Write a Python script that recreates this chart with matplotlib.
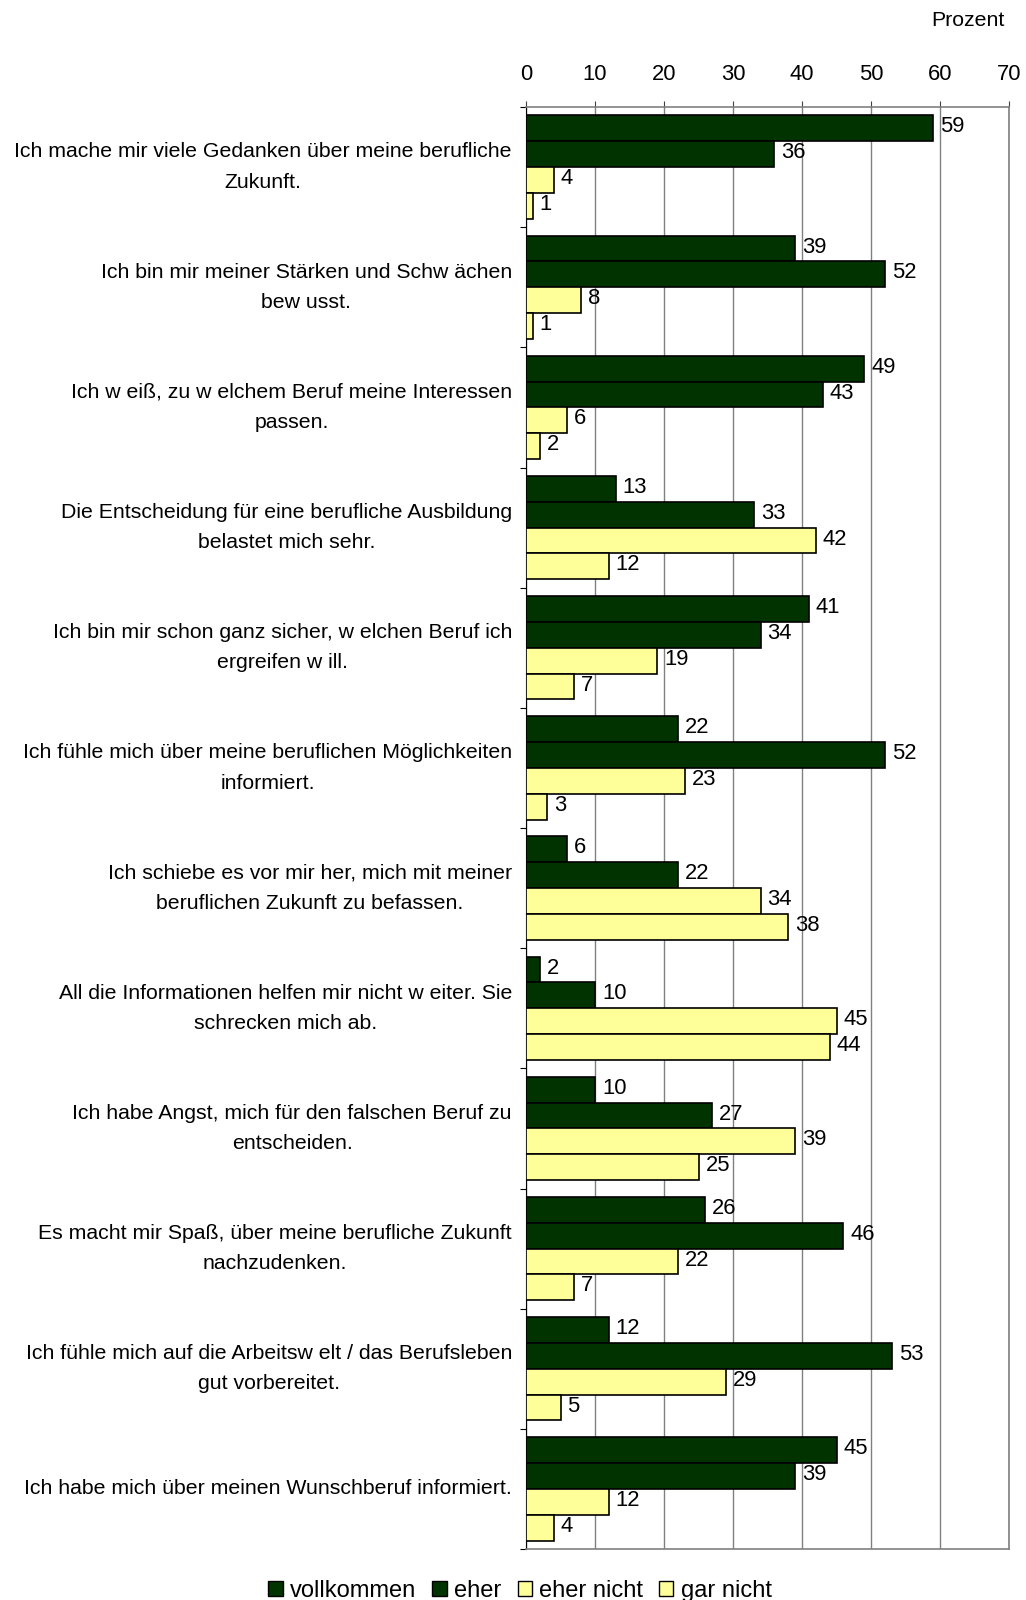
import numpy as np
import matplotlib.pyplot as plt
import matplotlib.transforms as mtransforms
from matplotlib.patches import Patch

plt.rcParams['font.family'] = ['Liberation Sans', 'DejaVu Sans']

aussagen = [
    "Ich mache mir viele Gedanken über meine berufliche\nZukunft.",
    "Ich bin mir meiner Stärken und Schw ächen\nbew usst.",
    "Ich w eiß, zu w elchem Beruf meine Interessen\npassen.",
    "Die Entscheidung für eine berufliche Ausbildung\nbelastet mich sehr.",
    "Ich bin mir schon ganz sicher, w elchen Beruf ich\nergreifen w ill.",
    "Ich fühle mich über meine beruflichen Möglichkeiten\ninformiert.",
    "Ich schiebe es vor mir her, mich mit meiner\nberuflichen Zukunft zu befassen.",
    "All die Informationen helfen mir nicht w eiter. Sie\nschrecken mich ab.",
    "Ich habe Angst, mich für den falschen Beruf zu\nentscheiden.",
    "Es macht mir Spaß, über meine berufliche Zukunft\nnachzudenken.",
    "Ich fühle mich auf die Arbeitsw elt / das Berufsleben\ngut vorbereitet.",
    "Ich habe mich über meinen Wunschberuf informiert.",
]

antworten = ["vollkommen", "eher", "eher nicht", "gar nicht"]
farben = ["#003300", "#003300", "#FFFF99", "#FFFF99"]

vollkommen = [59, 39, 49, 13, 41, 22, 6, 2, 10, 26, 12, 45]
eher = [36, 52, 43, 33, 34, 52, 22, 10, 27, 46, 53, 39]
eher_nicht = [4, 8, 6, 42, 19, 23, 34, 45, 39, 22, 29, 12]
gar_nicht = [1, 1, 2, 12, 7, 3, 38, 44, 25, 7, 5, 4]
werte = [vollkommen, eher, eher_nicht, gar_nicht]

n = len(aussagen)
h = 0.215
grau = "#808080"
fs = 15.3

fig = plt.figure(figsize=(10.26, 16), dpi=100)
ax = fig.add_axes([526 / 1026, 1 - 1549 / 1600, 483 / 1026, 1442 / 1600])

mitte = np.arange(n) + 0.5
for j in range(4):
    y = mitte - 1.5 * h + j * h
    bars = ax.barh(y, werte[j], height=h, color=farben[j], edgecolor="black",
                   linewidth=1.2, zorder=3)
    for b, v in zip(bars, werte[j]):
        ax.annotate(str(v), (b.get_width(), b.get_y() + h / 2),
                    xytext=(5, 1), textcoords="offset points",
                    va="center", ha="left", fontsize=fs + 0.5, zorder=4)

ax.set_xlim(0, 70)
ax.set_ylim(n, 0)
ax.xaxis.tick_top()
ax.set_xticks(range(0, 71, 10))
ax.tick_params(axis="x", direction="out", length=4, color="#404040",
               labelsize=fs + 0.5, pad=12)
ax.grid(axis="x", color=grau, linewidth=1, zorder=0)

# Beschriftungen links, mehrzeilig zentriert
ax.set_yticks(np.arange(n + 1))
ax.set_yticklabels([])
ax.tick_params(axis="y", direction="out", length=4, color="black")
trans = mtransforms.offset_copy(ax.get_yaxis_transform(), fig=fig, x=-14, y=0, units="dots")
for yc, txt in zip(mitte, aussagen):
    ax.text(0, yc, txt, transform=trans, ha="right", va="center",
            multialignment="center", linespacing=1.75, fontsize=fs)

for s in ["top", "right", "bottom"]:
    ax.spines[s].set_color(grau)
    ax.spines[s].set_linewidth(1.2)
ax.spines["left"].set_color("black")

fig.text(968 / 1026, 1 - 20 / 1600, "Prozent", ha="center", va="center", fontsize=fs)

handles = [Patch(facecolor=farben[j], edgecolor="black", linewidth=1) for j in range(4)]
fig.legend(handles, antworten, loc="center", bbox_to_anchor=(520 / 1026, 1 - 1591 / 1600),
           ncol=4, frameon=False, fontsize=17, handlelength=0.6, handleheight=0.6,
           handletextpad=0.3, columnspacing=0.7)

fig.savefig("out.png", dpi=100)
